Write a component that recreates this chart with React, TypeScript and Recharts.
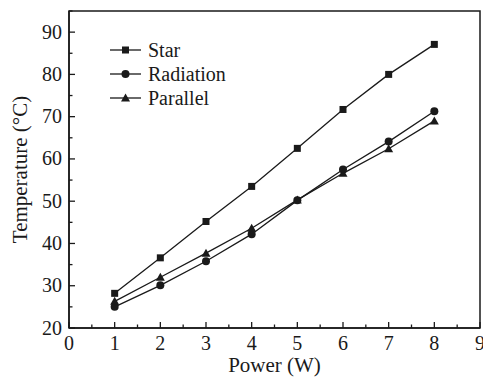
import { LineChart, Line, XAxis, YAxis, Legend, ReferenceArea } from 'recharts'

const powers = [1, 2, 3, 4, 5, 6, 7, 8]
const star = [28.2, 36.6, 45.2, 53.5, 62.5, 71.7, 80.0, 87.1]
const radiation = [25.0, 30.1, 35.8, 42.2, 50.2, 57.5, 64.1, 71.3]
const parallel = [26.3, 32.0, 37.7, 43.6, 50.3, 56.6, 62.4, 69.0]

const xTicks = [0, 0.5, 1, 1.5, 2, 2.5, 3, 3.5, 4, 4.5, 5, 5.5, 6, 6.5, 7, 7.5, 8, 8.5, 9]
const yTicks = [20, 25, 30, 35, 40, 45, 50, 55, 60, 65, 70, 75, 80, 85, 90, 95]

const data = powers.map((p, i) => ({
  power: p,
  star: star[i],
  radiation: radiation[i],
  parallel: parallel[i],
}))

const FONT = 'Liberation Serif'
const INK = '#1a1a1a'
const FS = 20

type Marker = 'square' | 'circle' | 'triangle'

function drawMarker(kind: Marker, cx: number, cy: number, key?: string | number) {
  if (kind === 'square') return <rect key={key} x={cx - 3.5} y={cy - 3.5} width={7} height={7} fill={INK} />
  if (kind === 'circle') return <circle key={key} cx={cx} cy={cy} r={4} fill={INK} />
  return <path key={key} d={`M${cx},${cy - 4.5} L${cx + 4.5},${cy + 3.5} L${cx - 4.5},${cy + 3.5} Z`} fill={INK} />
}

function dotOf(kind: Marker) {
  return (props: any) => drawMarker(kind, props.cx, props.cy, props.index)
}

function XTick({ x, y, payload }: any) {
  const major = Number.isInteger(payload.value)
  return (
    <g>
      <line x1={x} y1={y} x2={x} y2={y - (major ? 6 : 3.5)} stroke={INK} strokeWidth={1.3} />
      {major && (
        <text x={x} y={y + 22} textAnchor="middle" fontFamily={FONT} fontSize={FS} fill={INK}>
          {payload.value}
        </text>
      )}
    </g>
  )
}

function YTick({ x, y, payload }: any) {
  const major = payload.value % 10 === 0
  return (
    <g>
      <line x1={x} y1={y} x2={x + (major ? 6 : 3.5)} y2={y} stroke={INK} strokeWidth={1.3} />
      {major && (
        <text x={x - 7} y={y + 6.5} textAnchor="end" fontFamily={FONT} fontSize={FS} fill={INK}>
          {payload.value}
        </text>
      )}
    </g>
  )
}

const legendItems: { label: string; kind: Marker }[] = [
  { label: 'Star', kind: 'square' },
  { label: 'Radiation', kind: 'circle' },
  { label: 'Parallel', kind: 'triangle' },
]

function LegendBox() {
  return (
    <div style={{ fontFamily: FONT, fontSize: FS, color: INK, lineHeight: '24px' }}>
      {legendItems.map((it) => (
        <div key={it.label} style={{ display: 'flex', alignItems: 'center', height: 24 }}>
          <svg width={38} height={12}>
            <line x1={0} y1={6} x2={31} y2={6} stroke={INK} strokeWidth={1.3} />
            {drawMarker(it.kind, 15.5, 6)}
          </svg>
          <span>{it.label}</span>
        </div>
      ))}
    </div>
  )
}

export default function App() {
  return (
    <div style={{ position: 'absolute', left: 0, top: 0, background: '#fff', fontFamily: FONT }}>
      <LineChart width={483} height={378} data={data} margin={{ top: 11, right: 3, left: 0, bottom: 0 }}>
        <ReferenceArea x1={0} x2={9} y1={20} y2={95} fill="none" stroke={INK} strokeWidth={1.5} ifOverflow="visible" />
        <XAxis
          dataKey="power"
          type="number"
          domain={[0, 9]}
          ticks={xTicks}
          interval={0}
          height={50}
          tickSize={0}
          tickMargin={0}
          tickLine={false}
          axisLine={{ stroke: INK, strokeWidth: 1.5 }}
          tick={<XTick />}
          label={({ viewBox }: any) => (
            <text x={viewBox.x + viewBox.width / 2} y={viewBox.y + 44} textAnchor="middle" fontFamily={FONT} fontSize={FS + 1} fill={INK}>
              Power (W)
            </text>
          )}
        />
        <YAxis
          type="number"
          domain={[20, 95]}
          ticks={yTicks}
          interval={0}
          width={69}
          tickSize={0}
          tickMargin={0}
          tickLine={false}
          axisLine={{ stroke: INK, strokeWidth: 1.5 }}
          tick={<YTick />}
          label={({ viewBox }: any) => {
            const cx = 20
            const cy = viewBox.y + viewBox.height / 2
            return (
              <text x={cx} y={cy} transform={`rotate(-90 ${cx} ${cy})`} textAnchor="middle" dominantBaseline="central" fontFamily={FONT} fontSize={FS + 1} fill={INK}>
                Temperature (°C)
              </text>
            )
          }}
        />
        <Legend
          layout="vertical"
          align="center"
          verticalAlign="middle"
          content={() => <LegendBox />}
          wrapperStyle={{ position: 'absolute', left: 110, top: 38, width: 'auto', height: 'auto' }}
        />
        <Line dataKey="star" name="Star" stroke={INK} strokeWidth={1.3} dot={dotOf('square')} isAnimationActive={false} />
        <Line dataKey="radiation" name="Radiation" stroke={INK} strokeWidth={1.3} dot={dotOf('circle')} isAnimationActive={false} />
        <Line dataKey="parallel" name="Parallel" stroke={INK} strokeWidth={1.3} dot={dotOf('triangle')} isAnimationActive={false} />
      </LineChart>
    </div>
  )
}
